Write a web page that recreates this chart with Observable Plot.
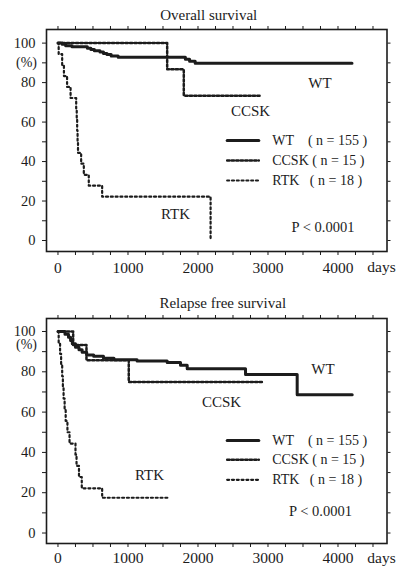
<!DOCTYPE html>
<html><head><meta charset="utf-8">
<script src="https://cdn.jsdelivr.net/npm/d3@7"></script>
<script src="https://cdn.jsdelivr.net/npm/@observablehq/plot@0.6"></script>
<style>
html,body{margin:0;padding:0;background:#fff}
body{width:402px;height:567px;overflow:hidden}
svg{display:block}
svg text{font-family:'Liberation Serif','Times New Roman','DejaVu Serif',serif}
</style></head><body>
<script>
// ---- data ----
const seriesNames = ["WT", "CCSK", "RTK"];
const seriesN = [155, 15, 18];
const titles = ["Overall survival", "Relapse free survival"];
const pLabel = "P < 0.0001";
const xLabel = "days";
const yUnit = "(%)";
const xTickLabels = [0, 1000, 2000, 3000, 4000];
const xTickMarks = [0, 250, 500, 750, 1000, 1250, 1500, 1750, 2000, 2250, 2500, 2750, 3000, 3250, 3500, 3750, 4000, 4250, 4500];
const yTickLabels = [0, 20, 40, 60, 80, 100];
const yTickMarks = [0, 10, 20, 30, 40, 50, 60, 70, 80, 90, 100];

// Overall survival: [day, %]
const osWT = [[0,100],[60,99.4],[110,98.7],[200,98.1],[420,97.4],[470,96.8],[520,96.1],[600,95.5],[650,94.8],[700,94.2],[760,93.5],[860,92.9],[1820,91.8],[1880,90.8],[1960,89.8],[4200,89.8]];
const osCCSK = [[0,100],[1560,86.7],[1797,73.3],[2883,73.3]];
const osRTK = [[0,100],[10,94.4],[60,88.9],[85,83.3],[130,77.8],[180,72.2],[260,66.7],[268,61.1],[274,55.6],[280,50],[286,44.4],[331,38.9],[369,33.3],[440,27.8],[631,22.2],[2180,0],[2181,0]];

// Relapse free survival: [day, %]
const rfsWT = [[0,100],[100,98.6],[150,97.2],[180,95.5],[205,93.9],[250,92.2],[300,90.9],[345,89.7],[410,88.4],[510,87.7],[650,86.7],[800,86.0],[1130,85.3],[1560,84.6],[1750,83.2],[1846,81.5],[2679,78.7],[3417,68.6],[4203,68.6]];
const rfsCCSK = [[0,100],[217,93.3],[407,85.7],[1011,75.0],[2917,75.0]];
const rfsRTK = [[0,100],[10,94.4],[30,88.9],[45,83.3],[60,77.8],[70,72.2],[80,66.7],[95,61.1],[110,55.6],[135,50],[165,44.4],[250,38.9],[265,33.3],[300,27.8],[340,22.2],[631,17.5],[1583,17.5]];

// ---- styles ----
const INK = "#1c1c1c";
const FONT = "'Liberation Serif', 'Times New Roman', 'DejaVu Serif', serif";
const lineStyle = {
  WT:   {stroke: INK, strokeWidth: 3},
  CCSK: {stroke: INK, strokeWidth: 2.5, strokeDasharray: "2.3,2.2"},
  RTK:  {stroke: INK, strokeWidth: 2.2, strokeDasharray: "2,2.8"}
};
const legendText = (name, n) => {
  const pad = name === "WT" ? "\u00A0\u00A0\u00A0\u00A0" : name === "RTK" ? "\u00A0\u00A0\u00A0" : " ";
  return `${name}${pad}( n = ${n} )`;
};

function chart(cfg) {
  const series = [cfg.wt, cfg.ccsk, cfg.rtk];
  const legendRows = seriesNames.map((name, i) => ({name, n: seriesN[i], y: cfg.legendY[i]}));
  const marks = [
    Plot.frame({stroke: INK, strokeWidth: 1.6}),
    Plot.axisY({ticks: yTickMarks, tickSize: 4, tickPadding: 7, fontSize: 14.5, fontFamily: FONT, label: null,
      tickFormat: d => yTickLabels.includes(d) ? String(d) : ""}),
    Plot.axisY({anchor: "right", ticks: yTickMarks, tickSize: 3, label: null, tickFormat: () => ""}),
    Plot.axisX({anchor: "top", ticks: xTickMarks, tickSize: 4, label: null, tickFormat: () => ""}),
    Plot.axisX({anchor: "bottom", ticks: xTickMarks, tickSize: 4, tickPadding: cfg.xPad, fontSize: 15.5, fontFamily: FONT, label: null,
      tickFormat: d => xTickLabels.includes(d) ? String(d) : ""}),
    Plot.text([xLabel], {x: cfg.daysX, frameAnchor: "bottom", lineAnchor: "middle", dy: cfg.daysDy, fontSize: 15.5, fill: INK}),
    Plot.text([yUnit], {y: cfg.unitY, frameAnchor: "left", lineAnchor: "middle", textAnchor: "end", dx: -9.5, fontSize: 14, fill: INK}),
    Plot.text([cfg.title], {frameAnchor: "top", lineAnchor: "middle", dx: cfg.titleDx, dy: cfg.titleDy, fontSize: 15, fill: INK}),
    ...seriesNames.map((name, i) => Plot.line(series[i], {x: d => d[0], y: d => d[1], curve: "step-after", ...lineStyle[name]})),
    // legend samples
    ...legendRows.map(r => Plot.line([[cfg.legendX0, r.y], [cfg.legendX1, r.y]], {x: d => d[0], y: d => d[1], ...lineStyle[r.name]})),
    Plot.text(legendRows, {x: () => cfg.legendTextX, y: "y", text: r => legendText(r.name, r.n), textAnchor: "start", fontSize: 14, fill: INK}),
    // series labels
    Plot.text(seriesNames.map((name, i) => ({name, pos: cfg.labelPos[i]})), {x: d => d.pos[0], y: d => d.pos[1], text: "name", fontSize: 15, fill: INK}),
    Plot.text([pLabel], {x: cfg.pPos[0], y: cfg.pPos[1], fontSize: 14.5, fill: INK})
  ];
  return Plot.plot({
    width: 402, height: cfg.height,
    marginTop: cfg.mt, marginBottom: cfg.mb, marginLeft: 46, marginRight: 15.5,
    x: {domain: [-164, 4700]},
    y: {domain: cfg.yDomain},
    style: {fontFamily: FONT, color: INK, background: "#fff", overflow: "visible"},
    marks
  });
}

const chartOS = chart({
  title: titles[0], wt: osWT, ccsk: osCCSK, rtk: osRTK,
  height: 284, mt: 29, mb: 33, yDomain: [-5.57, 106.9],
  xPad: 6.5, daysX: 4621, daysDy: 16, unitY: 90.3, titleDx: -8, titleDy: -14,
  legendY: [50.7, 40.5, 30.4], legendX0: 2417, legendX1: 2869, legendTextX: 3060,
  labelPos: [[3743, 79.8], [2750, 65.3], [1679, 13.2]], pPos: [3786, 6.6]
});
const chartRFS = chart({
  title: titles[1], wt: rfsWT, ccsk: rfsCCSK, rtk: rfsRTK,
  height: 283, mt: 34, mb: 24, yDomain: [-5.2, 106.45],
  xPad: 4.8, daysX: 4621, daysDy: 14.5, unitY: 93.3, titleDx: 6, titleDy: -15,
  legendY: [45.9, 36.3, 26.4], legendX0: 2417, legendX1: 2869, legendTextX: 3060,
  labelPos: [[3786, 81.1], [2336, 64.9], [1307, 28.5]], pPos: [3750, 10.9]
});
document.body.append(chartOS, chartRFS);
</script>
</body></html>
